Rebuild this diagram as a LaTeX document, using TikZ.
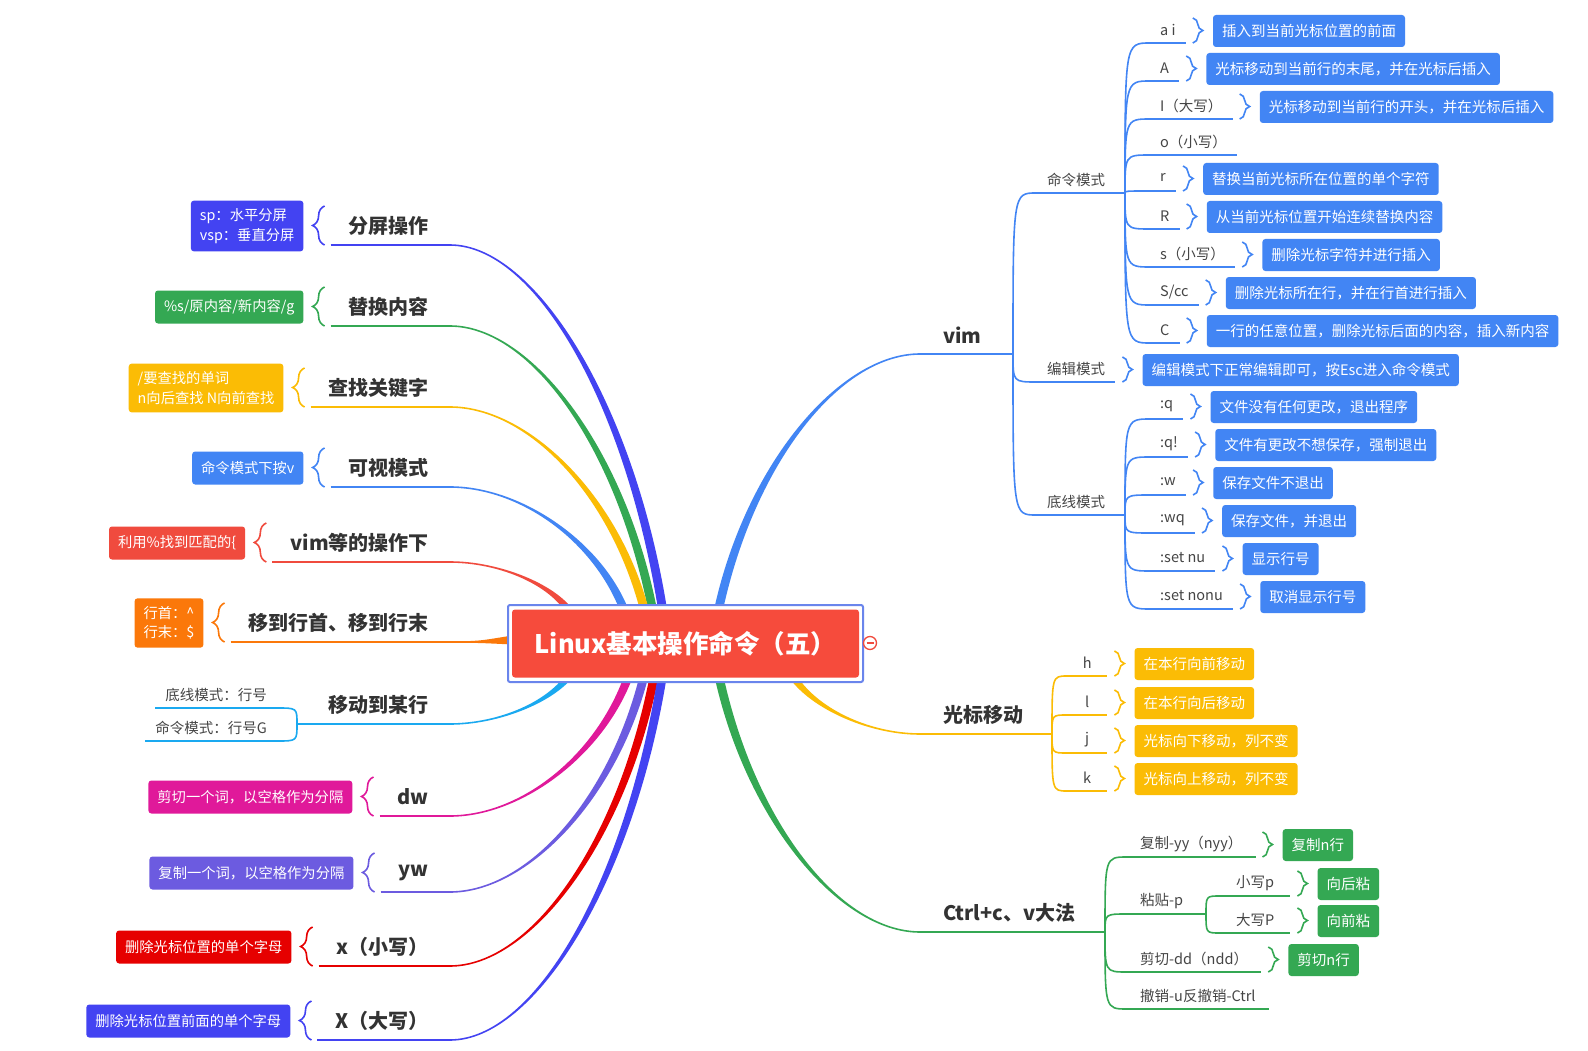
\documentclass[tikz,border=0pt]{standalone}
\usepackage{fontspec}
\setmainfont{Noto Sans CJK SC}
\usepackage{tikz}
\usetikzlibrary{calc,decorations.pathreplacing}
\definecolor{lxink}{HTML}{333333}
\definecolor{lxgray}{HTML}{454545}
\definecolor{lxindigo}{HTML}{4343F2}
\definecolor{lxgreen}{HTML}{34A853}
\definecolor{lxyellow}{HTML}{FBBC05}
\definecolor{lxblue}{HTML}{4285F4}
\definecolor{lxred}{HTML}{F04B3E}
\definecolor{lxorange}{HTML}{FB780A}
\definecolor{lxsky}{HTML}{1AA9F0}
\definecolor{lxpink}{HTML}{E0199A}
\definecolor{lxpurple}{HTML}{6C5BE0}
\definecolor{lxcrimson}{HTML}{E60000}
\definecolor{lxroot}{HTML}{F64B3C}
\definecolor{lxframe}{HTML}{6A85EC}
\tikzset{
  topic/.style={inner xsep=21pt,inner ysep=0pt,minimum height=38pt,
                font=\fontsize{20}{23}\selectfont\bfseries,text=lxink},
  lbl/.style={inner xsep=10pt,inner ysep=0pt,minimum height=26pt,
              font=\fontsize{14.5}{17}\selectfont,text=lxgray},
  note/.style={fill=#1,rounded corners=3pt,text=white,inner xsep=9pt,inner ysep=0pt,
               minimum height=32pt,font=\fontsize{14.5}{17}\selectfont},
  tag/.style={fill=#1,rounded corners=3pt,text=white,inner xsep=9pt,inner ysep=8pt,
              minimum height=33pt,align=left,font=\fontsize{14.3}{19.5}\selectfont},
  twig/.style={draw=#1,line width=1.6pt},
  curly/.style={twig=#1,decorate,decoration={brace,amplitude=10pt}},
}
% tapered main branch: colour, root point, leaf point
\newcommand{\limb}[3]{%
  \fill[#1] let \p1=(#2), \p2=(#3),
    \n1={ifthenelse(((\x2-\x1)/100)*((\y2-\y1)/100)>0,-1,1)} in
    ({\x1+4.5pt},\y1)
    .. controls ({\x1+0.155*(\x2-\x1)+4.5pt},{\y1+0.57*(\y2-\y1)})
    and ({\x1+0.6*(\x2-\x1)},{\y2+(\n1)*0.8pt}) .. (\x2,{\y2+(\n1)*0.8pt})
    -- (\x2,{\y2-(\n1)*0.8pt})
    .. controls ({\x1+0.6*(\x2-\x1)},{\y2-(\n1)*0.8pt})
    and ({\x1+0.155*(\x2-\x1)-4.5pt},{\y1+0.57*(\y2-\y1)}) .. ({\x1-4.5pt},\y1)
    -- cycle;}
% right-hand row: label, underline, brace, box
\newcommand{\leafrow}[6][]{%
  \node[lbl,anchor=south west,#1] (#2) at (#4) {#5};
  \draw[twig=#3] (#2.south west) -- (#2.south east);
  \draw[curly=#3] ($(#2.south east)+(7,-25)$) -- ($(#2.south east)+(7,0)$);
  \node[note=#3,anchor=west] (#2n) at ($(#2.south east)+(27,-12)$) {#6};}
% left-hand row: topic, underline, brace, box
\newcommand{\leftrow}[5]{%
  \node[topic,anchor=south east] (#1) at (#3) {#4};
  \draw[twig=#2] ($(#1.south west)+(3,0)$) -- (#1.south east);
  \draw[curly=#2,decoration={amplitude=12pt}] ($(#1.south west)+(-3,0)$) -- ($(#1.south west)+(-3,-39)$);
  \node[tag=#2,anchor=east] (#1n) at ($(#1.south west)+(-24,-19)$) {#5};}

\begin{document}
\begin{tikzpicture}[x=1pt,y=-1pt]
  \fill[white] (0,0) rectangle (1588,1051);
  \useasboundingbox (0,0) rectangle (1588,1051);

  % left topics
  \leftrow{t1}{lxindigo}{450,245}{分屏操作}{sp：水平分屏\\vsp：垂直分屏}
  \leftrow{t2}{lxgreen}{450,326}{替换内容}{\%s/原内容/新内容/g}
  \leftrow{t3}{lxyellow}{450,407}{查找关键字}{/要查找的单词\\n向后查找 N向前查找}
  \leftrow{t4}{lxblue}{450,487}{可视模式}{命令模式下按v}
  \leftrow{t5}{lxred}{450,562}{vim等的操作下}{利用\%找到匹配的\{}
  \leftrow{t6}{lxorange}{450,642}{移到行首、移到行末}{行首：\textasciicircum\\行末：\$}
  \leftrow{t8}{lxpink}{450,816}{dw}{剪切一个词，以空格作为分隔}
  \leftrow{t9}{lxpurple}{450,892}{yw}{复制一个词，以空格作为分隔}
  \leftrow{t10}{lxcrimson}{450,966}{x（小写）}{删除光标位置的单个字母}
  \leftrow{t11}{lxindigo}{450,1040}{X（大写）}{删除光标位置前面的单个字母}

  \node[topic,anchor=south east] (t7) at (450,724) {移动到某行};
  \coordinate (j7) at (297,724);
  \draw[twig=lxsky] (j7) -- (t7.south east);
  \node[lbl,anchor=south east] (m1) at (277,708) {底线模式：行号};
  \node[lbl,anchor=south east] (m2) at (277,741) {命令模式：行号G};
  \foreach \n in {m1,m2}
    \draw[twig=lxsky] (\n.south west) -- (\n.south east) .. controls (j7 |- \n.south east) .. (j7);

  % vim
  \node[topic,anchor=south west,inner xsep=23pt] (vim) at (920,354) {vim};
  \coordinate (jv) at (1013,354);
  \draw[twig=lxblue] (vim.south west) -- (jv);
  \node[lbl,anchor=south west,inner xsep=11pt] (cmd) at (1036,193) {命令模式};
  \coordinate (jc) at (1125,193);
  \draw[twig=lxblue] (cmd.south west) -- (jc);
  \leafrow{edit}{lxblue}{1037,382}{编辑模式}{编辑模式下正常编辑即可，按Esc进入命令模式}
  \node[lbl,anchor=south west,inner xsep=11pt] (base) at (1036,515) {底线模式};
  \coordinate (jb) at (1125,515);
  \draw[twig=lxblue] (base.south west) -- (jb);
  \foreach \n in {cmd,edit,base}
    \draw[twig=lxblue] (jv) .. controls (jv |- \n.south west) .. (\n.south west);

  \leafrow{c1}{lxblue}{1150,43}{a i}{插入到当前光标位置的前面}
  \leafrow{c2}{lxblue}{1150,81}{A}{光标移动到当前行的末尾，并在光标后插入}
  \leafrow{c3}{lxblue}{1150,119}{I（大写）}{光标移动到当前行的开头，并在光标后插入}
  \node[lbl,anchor=south west] (c4) at (1150,155) {o（小写）};
  \draw[twig=lxblue] (c4.south west) -- (c4.south east);
  \leafrow{c5}{lxblue}{1150,191}{r}{替换当前光标所在位置的单个字符}
  \leafrow{c6}{lxblue}{1150,229}{R}{从当前光标位置开始连续替换内容}
  \leafrow{c7}{lxblue}{1150,267}{s（小写）}{删除光标字符并进行插入}
  \leafrow{c8}{lxblue}{1150,305}{S/cc}{删除光标所在行，并在行首进行插入}
  \leafrow{c9}{lxblue}{1150,343}{C}{一行的任意位置，删除光标后面的内容，插入新内容}
  \foreach \i in {1,...,9}
    \draw[twig=lxblue] (jc) .. controls (jc |- c\i.south west) .. (c\i.south west);

  \leafrow{d1}{lxblue}{1150,419}{:q}{文件没有任何更改，退出程序}
  \leafrow{d2}{lxblue}{1150,457}{:q!}{文件有更改不想保存，强制退出}
  \leafrow{d3}{lxblue}{1150,495}{:w}{保存文件不退出}
  \leafrow{d4}{lxblue}{1150,533}{:wq}{保存文件，并退出}
  \leafrow{d5}{lxblue}{1150,571}{:set nu}{显示行号}
  \leafrow{d6}{lxblue}{1150,609}{:set nonu}{取消显示行号}
  \foreach \i in {1,...,6}
    \draw[twig=lxblue] (jb) .. controls (jb |- d\i.south west) .. (d\i.south west);

  % cursor moves
  \node[topic,anchor=south west,inner xsep=23pt] (cur) at (920,734) {光标移动};
  \coordinate (jg) at (1052,734);
  \draw[twig=lxyellow] (cur.south west) -- (jg);
  \leafrow[minimum width=40pt,inner xsep=0pt]{g1}{lxyellow}{1067,676}{h}{在本行向前移动}
  \leafrow[minimum width=40pt,inner xsep=0pt]{g2}{lxyellow}{1067,715}{l}{在本行向后移动}
  \leafrow[minimum width=40pt,inner xsep=0pt]{g3}{lxyellow}{1067,753}{j}{光标向下移动，列不变}
  \leafrow[minimum width=40pt,inner xsep=0pt]{g4}{lxyellow}{1067,791}{k}{光标向上移动，列不变}
  \foreach \i in {1,...,4}
    \draw[twig=lxyellow] (jg) .. controls (jg |- g\i.south west) .. (g\i.south west);

  % copy and paste
  \node[topic,anchor=south west,inner xsep=23pt] (ctl) at (920,932) {Ctrl+c、v大法};
  \coordinate (jt) at (1105,932);
  \draw[twig=lxgreen] (ctl.south west) -- (jt);
  \leafrow[inner xsep=13pt]{e1}{lxgreen}{1127,857}{复制-yy（nyy）}{复制n行}
  \node[lbl,anchor=south west,inner xsep=13pt] (e2) at (1127,914) {粘贴-p};
  \coordinate (jp) at (1206,914);
  \draw[twig=lxgreen] (e2.south west) -- (jp);
  \leafrow[minimum width=70pt,inner xsep=0pt]{p1}{lxgreen}{1220,896}{小写p}{向后粘}
  \leafrow[minimum width=70pt,inner xsep=0pt]{p2}{lxgreen}{1220,933}{大写P}{向前粘}
  \foreach \n in {p1,p2}
    \draw[twig=lxgreen] (jp) .. controls (jp |- \n.south west) .. (\n.south west);
  \leafrow[inner xsep=13pt]{e3}{lxgreen}{1127,972}{剪切-dd（ndd）}{剪切n行}
  \node[lbl,anchor=south west,inner xsep=13pt] (e4) at (1127,1009) {撤销-u反撤销-Ctrl};
  \draw[twig=lxgreen] (e4.south west) -- (e4.south east);
  \foreach \i in {1,...,4}
    \draw[twig=lxgreen] (jt) .. controls (jt |- e\i.south west) .. (e\i.south west);

  % main branches
  \coordinate (a1) at (663,612);
  \coordinate (a2) at (653,612);
  \coordinate (a3) at (645,612);
  \coordinate (a4) at (625,612);
  \coordinate (a5) at (570,612);
  \coordinate (a6) at (512,640);
  \coordinate (a7) at (572,672);
  \coordinate (a8) at (630,672);
  \coordinate (a9) at (645,672);
  \coordinate (a10) at (655,672);
  \coordinate (a11) at (663,672);
  \coordinate (b1) at (718,612);
  \coordinate (b2) at (790,672);
  \coordinate (b3) at (718,672);
  \limb{lxindigo}{a1}{t1.south east}
  \limb{lxgreen}{a2}{t2.south east}
  \limb{lxyellow}{a3}{t3.south east}
  \limb{lxblue}{a4}{t4.south east}
  \limb{lxred}{a5}{t5.south east}
  \fill[lxorange] let \p1=(a6), \p2=(t6.south east) in
    (\x2,{\y2+0.8pt}) .. controls ({\x2+28pt},{\y2+0.8pt}) .. (\x1,{\y1+4.5pt})
    -- (\x1,{\y1-4.5pt}) .. controls ({\x2+28pt},{\y2-0.8pt}) .. (\x2,{\y2-0.8pt}) -- cycle;
  \limb{lxsky}{a7}{t7.south east}
  \limb{lxpink}{a8}{t8.south east}
  \limb{lxpurple}{a9}{t9.south east}
  \limb{lxcrimson}{a10}{t10.south east}
  \limb{lxindigo}{a11}{t11.south east}
  \limb{lxblue}{b1}{vim.south west}
  \limb{lxyellow}{b2}{cur.south west}
  \limb{lxgreen}{b3}{ctl.south west}

  % central topic
  \node[draw=lxframe,line width=2pt,fill=white,rounded corners=2pt,inner sep=0pt,
        minimum width=355pt,minimum height=77pt] (frame) at (685.5,643.5) {};
  \node[fill=lxroot,rounded corners=3pt,minimum width=347pt,minimum height=68pt,text=white,
        font=\fontsize{25.5}{29}\selectfont\bfseries] (root) at (frame.center) {Linux基本操作命令（五）};
  \node[circle,draw=lxred,fill=white,line width=1.3pt,minimum size=13pt,inner sep=0pt] (fold) at (870,643) {};
  \draw[lxred,line width=1.5pt] ($(fold.center)+(-3.5,0)$) -- ($(fold.center)+(3.5,0)$);
\end{tikzpicture}
\end{document}
